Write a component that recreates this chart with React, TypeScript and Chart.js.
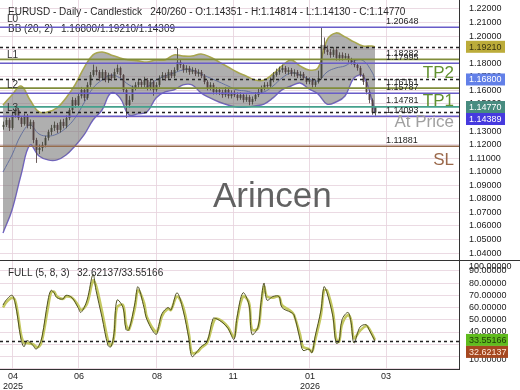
import React, { useEffect, useRef } from 'react';
import { Chart, registerables } from 'chart.js';

Chart.register(...registerables);

// ---------------- DATA ----------------
const firstOpen = 1.133;
const closes = [
  1.1345, 1.1381, 1.1323, 1.1418, 1.1455, 1.1396, 1.1352, 1.1411, 1.1337, 1.1367,
  1.1234, 1.1160, 1.1175, 1.1197, 1.1249, 1.1293, 1.1323, 1.1345, 1.1308, 1.1367,
  1.1337, 1.1396, 1.1455, 1.1529, 1.1492, 1.1558, 1.1603, 1.1544, 1.1640, 1.1713,
  1.1750, 1.1735, 1.1691, 1.1735, 1.1676, 1.1713, 1.1691, 1.1735, 1.1765, 1.1713,
  1.1603, 1.1492, 1.1529, 1.1617, 1.1640, 1.1662, 1.1640, 1.1676, 1.1617, 1.1662,
  1.1603, 1.1640, 1.1691, 1.1713, 1.1691, 1.1735, 1.1706, 1.1750, 1.1809, 1.1787,
  1.1750, 1.1765, 1.1735, 1.1750, 1.1721, 1.1735, 1.1706, 1.1662, 1.1617, 1.1640,
  1.1588, 1.1603, 1.1588, 1.1566, 1.1603, 1.1558, 1.1581, 1.1566, 1.1544, 1.1566,
  1.1529, 1.1551, 1.1514, 1.1536, 1.1566, 1.1588, 1.1617, 1.1640, 1.1632, 1.1676,
  1.1713, 1.1735, 1.1750, 1.1765, 1.1735, 1.1750, 1.1721, 1.1735, 1.1706, 1.1721,
  1.1691, 1.1662, 1.1676, 1.1640, 1.1662, 1.1691, 1.1935, 1.1898, 1.1883, 1.1861,
  1.1898, 1.1839, 1.1861, 1.1839, 1.1853, 1.1824, 1.1809, 1.1787, 1.1765, 1.1713,
  1.1662, 1.1588, 1.1529, 1.14351, 1.1477,
];
const highs = [
  1.1370, 1.1400, 1.1395, 1.1440, 1.1475, 1.1470, 1.1410, 1.1430, 1.1425, 1.1385,
  1.1380, 1.1250, 1.1200, 1.1220, 1.1265, 1.1310, 1.1345, 1.1370, 1.1360, 1.1385,
  1.1390, 1.1415, 1.1470, 1.1550, 1.1545, 1.1580, 1.1625, 1.1615, 1.1660, 1.1735,
  1.1790, 1.1775, 1.1750, 1.1755, 1.1750, 1.1730, 1.1725, 1.1760, 1.1790, 1.1775,
  1.1720, 1.1615, 1.1560, 1.1635, 1.1660, 1.1685, 1.1680, 1.1700, 1.1690, 1.1680,
  1.1675, 1.1660, 1.1710, 1.1735, 1.1730, 1.1755, 1.1750, 1.1770, 1.1912, 1.1830,
  1.1800, 1.1785, 1.1780, 1.1770, 1.1765, 1.1755, 1.1750, 1.1720, 1.1675, 1.1660,
  1.1655, 1.1625, 1.1620, 1.1605, 1.1625, 1.1615, 1.1600, 1.1600, 1.1585, 1.1585,
  1.1580, 1.1570, 1.1565, 1.1555, 1.1585, 1.1610, 1.1635, 1.1660, 1.1660, 1.1695,
  1.1735, 1.1760, 1.1775, 1.1790, 1.1780, 1.1770, 1.1765, 1.1755, 1.1750, 1.1740,
  1.1735, 1.1705, 1.1695, 1.1690, 1.1680, 1.1745, 1.2065, 1.1990, 1.1930, 1.1905,
  1.1920, 1.1910, 1.1880, 1.1880, 1.1875, 1.1870, 1.1840, 1.1825, 1.1800, 1.1780,
  1.1725, 1.1675, 1.1600, 1.1540, 1.14814,
];
const lows = [
  1.1310, 1.1330, 1.1300, 1.1310, 1.1400, 1.1380, 1.1330, 1.1340, 1.1320, 1.1315,
  1.1210, 1.1065, 1.1130, 1.1150, 1.1180, 1.1230, 1.1270, 1.1300, 1.1285, 1.1290,
  1.1320, 1.1320, 1.1380, 1.1440, 1.1470, 1.1480, 1.1540, 1.1520, 1.1530, 1.1625,
  1.1700, 1.1710, 1.1670, 1.1675, 1.1660, 1.1655, 1.1670, 1.1680, 1.1720, 1.1690,
  1.1585, 1.1395, 1.1470, 1.1515, 1.1600, 1.1620, 1.1620, 1.1625, 1.1600, 1.1600,
  1.1560, 1.1590, 1.1625, 1.1675, 1.1670, 1.1680, 1.1690, 1.1690, 1.1740, 1.1765,
  1.1730, 1.1730, 1.1715, 1.1720, 1.1705, 1.1700, 1.1690, 1.1645, 1.1600, 1.1600,
  1.1570, 1.1570, 1.1565, 1.1545, 1.1550, 1.1540, 1.1540, 1.1550, 1.1525, 1.1530,
  1.1510, 1.1515, 1.1490, 1.1495, 1.1520, 1.1550, 1.1575, 1.1600, 1.1615, 1.1620,
  1.1660, 1.1700, 1.1715, 1.1730, 1.1720, 1.1715, 1.1705, 1.1700, 1.1690, 1.1690,
  1.1675, 1.1645, 1.1645, 1.1620, 1.1625, 1.1650, 1.1680, 1.1870, 1.1860, 1.1840,
  1.1845, 1.1820, 1.1820, 1.1820, 1.1825, 1.1805, 1.1790, 1.1770, 1.1745, 1.1700,
  1.1640, 1.1570, 1.1505, 1.1420, 1.14130,
];

const bbIdx = [0, 3, 6, 9, 12, 15, 18, 21, 24, 27, 30, 33, 36, 39, 42, 45, 48, 51, 54, 57, 60, 63, 66, 69, 72, 75, 78, 81, 84, 87, 90, 93, 96, 99, 102, 105, 108, 111, 114, 117, 120, 123, 124];
const bbUpper = [
  1.1492, 1.1566, 1.1632, 1.1529, 1.1441, 1.1441, 1.1470, 1.1544, 1.1640, 1.1765,
  1.1861, 1.1883, 1.1861, 1.1839, 1.1824, 1.1817, 1.1809, 1.1824, 1.1824, 1.1861,
  1.1853, 1.1853, 1.1868, 1.1846, 1.1809, 1.1772, 1.1735, 1.1706, 1.1676, 1.1676,
  1.1721, 1.1780, 1.1824, 1.1780, 1.1750, 1.1765, 1.1971, 1.2023, 1.1994, 1.1957,
  1.1927, 1.1927, 1.1921,
];
const bbLower = [
  1.0548, 1.0718, 1.0976, 1.1197, 1.1116, 1.1087, 1.1087, 1.1123, 1.1190, 1.1271,
  1.1381, 1.1455, 1.1581, 1.1544, 1.1418, 1.1426, 1.1441, 1.1544, 1.1588, 1.1603,
  1.1640, 1.1640, 1.1581, 1.1544, 1.1514, 1.1492, 1.1477, 1.1477, 1.1485, 1.1499,
  1.1544, 1.1603, 1.1632, 1.1654, 1.1610, 1.1573, 1.1499, 1.1514, 1.1558, 1.1691,
  1.1706, 1.1529, 1.1439,
];
const bbMid = [
  1.0998, 1.1123, 1.1271, 1.1345, 1.1278, 1.1263, 1.1278, 1.1323, 1.1396, 1.1507,
  1.1617, 1.1676, 1.1713, 1.1691, 1.1640, 1.1617, 1.1625, 1.1676, 1.1706, 1.1728,
  1.1750, 1.1750, 1.1721, 1.1691, 1.1662, 1.1632, 1.1603, 1.1595, 1.1581, 1.1588,
  1.1632, 1.1691, 1.1728, 1.1713, 1.1684, 1.1669, 1.1735, 1.1765, 1.1780, 1.1817,
  1.1820, 1.1735, 1.1680,
];

const stochIdx = [0, 1, 3, 4, 5, 6, 7, 8, 10, 11, 12, 13, 15, 16, 17, 18, 20, 21, 23, 25, 26, 28, 30, 31, 33, 35, 36, 37, 38, 40, 41, 42, 44, 45, 47, 48, 51, 52, 53, 55, 56, 58, 60, 62, 63, 65, 66, 68, 70, 71, 73, 75, 77, 78, 80, 82, 83, 85, 86, 87, 88, 90, 92, 93, 96, 97, 99, 100, 102, 103, 104, 106, 107, 108, 110, 111, 112, 113, 115, 116, 117, 119, 121, 122, 124];
const stochK = [
  62, 66, 70, 64, 50, 34, 28, 33, 29, 26, 29, 36, 66, 74, 72, 68, 67, 70, 68, 60,
  56, 66, 87, 74, 52, 29, 28, 39, 66, 60, 42, 42, 64, 77, 60, 50, 38, 46, 55, 60,
  58, 72, 58, 34, 20, 25, 28, 32, 51, 51, 48, 43, 34, 52, 72, 62, 38, 44, 64, 80,
  66, 69, 69, 60, 56, 54, 34, 25, 26, 23, 36, 58, 77, 72, 52, 31, 32, 50, 56, 48,
  31, 44, 46, 42, 32.62137,
];
const stochD = [
  60, 64, 68, 66, 54, 38, 31, 31, 30, 28, 28, 33, 60, 72, 73, 69, 67, 69, 68, 62,
  58, 63, 82, 78, 57, 33, 29, 36, 60, 62, 46, 42, 60, 74, 64, 52, 40, 44, 53, 59,
  58, 69, 61, 38, 23, 24, 27, 31, 47, 51, 49, 44, 36, 49, 69, 64, 42, 43, 61, 77,
  69, 68, 69, 62, 57, 54, 38, 28, 26, 24, 33, 54, 74, 74, 56, 35, 32, 46, 54, 50,
  35, 41, 45, 43, 33.55166,
];

const monthTickIdx = [3.3, 25.3, 51.3, 76.7, 102.3, 127.7];
const monthLabels = ['04', '06', '08', '11', '01', '03'];
const yearLabels = ['2025', '', '', '', '2026', ''];
const priceTicks = [1.04, 1.05, 1.06, 1.07, 1.08, 1.09, 1.10, 1.11, 1.12, 1.13, 1.14, 1.15, 1.16, 1.17, 1.18, 1.19, 1.20, 1.21, 1.22];
const oscTicks = [10, 20, 30, 40, 50, 60, 70, 80, 90];

const levelValues = [1.20648, 1.18282, 1.17995, 1.16161, 1.15787, 1.14781, 1.14093, 1.11881];
const levelNames = ['L0', 'L1', 'L2', 'L3'];
const levelNameValues = [1.20648, 1.17995, 1.15787, 1.14093];
const bbLastValues = [1.1921, 1.168, 1.14389];
const zoneTexts = ['TP2', 'TP1', 'At Price', 'SL'];
const zoneValues = [1.17995, 1.15787, 1.14093, 1.11881];

const titleText = 'EURUSD - Daily - Candlestick   240/260 - O:1.14351 - H:1.14814 - L:1.14130 - C:1.14770';
const bbName = 'BB (20, 2)';
const bbValuesText = '1.16800/1.19210/1.14309';
const oscName = 'FULL (5, 8, 3)';
const oscValuesText = '32.62137/33.55166';
const watermark = 'Arincen';

// ---------------- STYLE ----------------
const FONT = '"Liberation Sans", Arial, Helvetica, sans-serif';
const GRID = 'rgba(232,212,222,0.85)';
const PURPLE = 'rgb(105,92,200)';
const OLIVE = 'rgb(128,140,58)';
const TEAL = 'rgb(70,160,140)';
const BROWN = 'rgb(150,108,78)';
const levelColors = [PURPLE, OLIVE, PURPLE, OLIVE, PURPLE, TEAL, PURPLE, BROWN];
const levelNameOffsets = [8, 8, 8, 8];
const zoneColors = ['rgb(98,145,48)', 'rgb(98,145,48)', 'rgb(160,160,160)', 'rgb(155,105,75)'];
const zoneOffsets = [10, 8, 6, 14];

type Box = { value: number; text: string; bg: string; fg: string };
const priceBoxes: Box[] = [
  { value: 1.1921, text: '1.19210', bg: 'rgb(188,172,58)', fg: '#3a3410' },
  { value: 1.168, text: '1.16800', bg: 'rgb(98,128,232)', fg: '#ffffff' },
  { value: 1.1477, text: '1.14770', bg: 'rgb(72,140,128)', fg: '#ffffff' },
  { value: 1.14389, text: '1.14389', bg: 'rgb(70,58,222)', fg: '#ffffff' },
];
const oscBoxes: Box[] = [
  { value: 33.55166, text: '33.55166', bg: 'rgb(96,188,30)', fg: '#1e3a08' },
  { value: 32.62137, text: '32.62137', bg: 'rgb(165,72,32)', fg: '#ffe8d8' },
];

function drawBoxes(ctx: CanvasRenderingContext2D, ys: any, boxes: Box[], x: number, w: number) {
  const h = 12;
  const items = boxes.map((b) => ({ ...b, y: ys.getPixelForValue(b.value) })).sort((a, b) => a.y - b.y);
  let prev = -1e9;
  ctx.save();
  ctx.font = `9px ${FONT}`;
  ctx.textBaseline = 'middle';
  ctx.textAlign = 'left';
  for (const it of items) {
    const top = Math.max(it.y - h / 2, prev);
    ctx.fillStyle = it.bg;
    ctx.fillRect(x, top, w, h);
    ctx.fillStyle = it.fg;
    ctx.fillText(it.text, x + 3, top + h / 2 + 0.5);
    prev = top + h;
  }
  ctx.restore();
}

const pricePlugin = {
  id: 'pricePlugin',
  beforeDatasetsDraw(chart: any) {
    const { ctx } = chart;
    ctx.save();
    ctx.font = `35px ${FONT}`;
    ctx.fillStyle = 'rgba(85,85,85,0.92)';
    ctx.textBaseline = 'alphabetic';
    ctx.fillText(watermark, 213, 207);
    ctx.restore();
  },
  afterDatasetsDraw(chart: any) {
    const { ctx, chartArea: ca, scales } = chart;
    const xs = scales.x;
    const ys = scales.y;
    ctx.save();
    ctx.beginPath();
    ctx.rect(ca.left, ca.top, ca.right - ca.left, ca.bottom - ca.top);
    ctx.clip();

    // candles
    const opens = closes.map((c, i) => (i === 0 ? firstOpen : closes[i - 1]));
    for (let i = 0; i < closes.length; i++) {
      const x = Math.round(xs.getPixelForValue(i));
      const yh = ys.getPixelForValue(highs[i]);
      const yl = ys.getPixelForValue(lows[i]);
      const yo = ys.getPixelForValue(opens[i]);
      const yc = ys.getPixelForValue(closes[i]);
      ctx.fillStyle = closes[i] >= opens[i] ? 'rgba(70,70,60,0.85)' : 'rgba(80,64,64,0.85)';
      ctx.fillRect(x, yh, 1, yl - yh);
      const top = Math.min(yo, yc);
      const hh = Math.max(1, Math.abs(yo - yc));
      ctx.fillRect(x - 0.5, top, 2, hh);
    }

    // header texts
    ctx.font = `10px ${FONT}`;
    ctx.fillStyle = '#2a2a2a';
    ctx.textBaseline = 'middle';
    ctx.textAlign = 'left';
    ctx.fillText(titleText, 8, 12);
    ctx.fillText(bbName, 8, 29);
    ctx.fillText(bbValuesText, 61, 29);

    // level lines
    levelValues.forEach((v, i) => {
      const y = ys.getPixelForValue(v);
      ctx.strokeStyle = levelColors[i];
      ctx.lineWidth = 1.6;
      ctx.setLineDash([]);
      ctx.beginPath();
      ctx.moveTo(ca.left, y);
      ctx.lineTo(ca.right, y);
      ctx.stroke();
    });
    // dotted BB current values
    bbLastValues.forEach((v) => {
      const y = Math.round(ys.getPixelForValue(v)) + 0.5;
      ctx.strokeStyle = '#222';
      ctx.lineWidth = 1.5;
      ctx.setLineDash([3, 3]);
      ctx.beginPath();
      ctx.moveTo(ca.left, y);
      ctx.lineTo(ca.right, y);
      ctx.stroke();
    });
    ctx.setLineDash([]);

    // level value texts
    ctx.font = `9px ${FONT}`;
    ctx.fillStyle = '#262626';
    ctx.textBaseline = 'bottom';
    levelValues.forEach((v) => {
      const y = ys.getPixelForValue(v);
      ctx.fillText(v.toFixed(5), 386, y - 1.5);
    });

    // L labels
    ctx.font = `10px ${FONT}`;
    ctx.fillStyle = '#333';
    ctx.textBaseline = 'middle';
    levelNames.forEach((n, i) => {
      const y = ys.getPixelForValue(levelNameValues[i]) - levelNameOffsets[i];
      ctx.fillText(n, 7, y);
    });

    // zone texts
    ctx.textAlign = 'right';
    zoneTexts.forEach((t, i) => {
      ctx.font = `17px ${FONT}`;
      ctx.fillStyle = zoneColors[i];
      const y = ys.getPixelForValue(zoneValues[i]) + zoneOffsets[i];
      ctx.fillText(t, 454, y);
    });
    ctx.restore();
  },
  afterDraw(chart: any) {
    drawBoxes(chart.ctx, chart.scales.y, priceBoxes, 466, 39);
  },
};

const oscPlugin = {
  id: 'oscPlugin',
  afterDatasetsDraw(chart: any) {
    const { ctx, chartArea: ca, scales } = chart;
    const ys = scales.y;
    ctx.save();
    const y = Math.round(ys.getPixelForValue(stochK[stochK.length - 1])) + 0.5;
    ctx.strokeStyle = '#222';
    ctx.lineWidth = 1.5;
    ctx.setLineDash([3, 3]);
    ctx.beginPath();
    ctx.moveTo(ca.left, y);
    ctx.lineTo(ca.right, y);
    ctx.stroke();
    ctx.setLineDash([]);
    ctx.font = `10px ${FONT}`;
    ctx.fillStyle = '#2a2a2a';
    ctx.textBaseline = 'middle';
    ctx.fillText(oscName, 8, 13);
    ctx.fillText(oscValuesText, 77, 13);
    ctx.restore();
  },
  afterDraw(chart: any) {
    const { ctx, scales, width } = chart;
    const ys = scales.y;
    ctx.save();
    ctx.strokeStyle = '#333';
    ctx.lineWidth = 1;
    ctx.beginPath();
    ctx.moveTo(0, 0.5);
    ctx.lineTo(width, 0.5);
    ctx.stroke();
    ctx.font = `9px ${FONT}`;
    ctx.fillStyle = '#222';
    ctx.textBaseline = 'middle';
    ctx.fillText((100).toFixed(5), 469, ys.getPixelForValue(90) - 4);
    ctx.fillText((10).toFixed(5), 469, ys.getPixelForValue(10) - 9);
    ctx.restore();
    drawBoxes(ctx, ys, oscBoxes, 466, 42);
  },
};

export default function App() {
  const priceRef = useRef<HTMLCanvasElement>(null);
  const oscRef = useRef<HTMLCanvasElement>(null);

  useEffect(() => {
    Chart.defaults.font.family = FONT;
    const pc = priceRef.current!;
    const oc = oscRef.current!;

    const xScaleBase = {
      type: 'linear' as const,
      min: -1,
      max: 152,
      position: 'bottom' as const,
      afterBuildTicks: (s: any) => {
        s.ticks = monthTickIdx.map((v) => ({ value: v }));
      },
      grid: { color: GRID, drawTicks: false },
    };

    const priceChart = new Chart(pc, {
      type: 'line',
      data: {
        datasets: [
          {
            label: 'BB upper',
            data: bbIdx.map((x, i) => ({ x, y: bbUpper[i] })),
            borderColor: 'rgb(168,166,78)',
            borderWidth: 1.6,
            pointRadius: 0,
            fill: '+1',
            backgroundColor: 'rgba(118,118,118,0.58)',
            tension: 0.4,
          },
          {
            label: 'BB lower',
            data: bbIdx.map((x, i) => ({ x, y: bbLower[i] })),
            borderColor: 'rgb(112,96,208)',
            borderWidth: 1.4,
            pointRadius: 0,
            fill: false,
            tension: 0.4,
          },
          {
            label: 'BB mid',
            data: bbIdx.map((x, i) => ({ x, y: bbMid[i] })),
            borderColor: 'rgb(78,108,212)',
            borderWidth: 1,
            pointRadius: 0,
            fill: false,
            tension: 0.4,
          },
        ],
      },
      options: {
        responsive: false,
        animation: false,
        events: [],
        layout: { padding: 0 },
        plugins: { legend: { display: false }, tooltip: { enabled: false } },
        scales: {
          x: {
            ...xScaleBase,
            ticks: { display: false, autoSkip: false },
            border: { display: false },
            afterFit: (s: any) => {
              s.height = 0;
              s.paddingLeft = 0;
              s.paddingRight = 0;
            },
          },
          y: {
            type: 'linear',
            position: 'right',
            min: 1.0349,
            max: 1.2266,
            afterBuildTicks: (s: any) => {
              s.ticks = priceTicks.map((v) => ({ value: v }));
            },
            ticks: {
              autoSkip: false,
              padding: 10,
              color: '#222',
              font: { size: 9, family: FONT },
              callback: (v: any) => Number(v).toFixed(5),
            },
            grid: { color: GRID, drawTicks: false },
            border: { display: true, color: '#333', width: 1 },
            afterFit: (s: any) => {
              s.width = 61;
              s.paddingTop = 0;
              s.paddingBottom = 0;
            },
          },
        },
      } as any,
      plugins: [pricePlugin],
    });

    const oscChart = new Chart(oc, {
      type: 'line',
      data: {
        datasets: [
          {
            label: '%K',
            data: stochIdx.map((x, i) => ({ x, y: stochK[i] })),
            borderColor: 'rgb(80,82,36)',
            borderWidth: 1,
            pointRadius: 0,
            fill: false,
            tension: 0.35,
          },
          {
            label: '%D',
            data: stochIdx.map((x, i) => ({ x, y: stochD[i] })),
            borderColor: 'rgb(196,200,96)',
            borderWidth: 2.6,
            pointRadius: 0,
            fill: false,
            tension: 0.35,
          },
        ],
      },
      options: {
        responsive: false,
        animation: false,
        events: [],
        layout: { padding: 0 },
        plugins: { legend: { display: false }, tooltip: { enabled: false } },
        scales: {
          x: {
            ...xScaleBase,
            ticks: {
              autoSkip: false,
              maxRotation: 0,
              padding: 2,
              color: '#222',
              font: { size: 9, family: FONT, lineHeight: 1.15 },
              callback: (_v: any, i: number) => [monthLabels[i], yearLabels[i]],
            },
            border: { display: true, color: '#333', width: 1 },
            afterFit: (s: any) => {
              s.height = 21;
              s.paddingLeft = 0;
              s.paddingRight = 0;
            },
          },
          y: {
            type: 'linear',
            position: 'right',
            min: 9.8,
            max: 98.8,
            afterBuildTicks: (s: any) => {
              s.ticks = oscTicks.map((v) => ({ value: v }));
            },
            ticks: {
              autoSkip: false,
              padding: 10,
              color: '#222',
              font: { size: 9, family: FONT },
              callback: (v: any) => (Number(v) >= 40 ? Number(v).toFixed(5) : ''),
            },
            grid: { color: GRID, drawTicks: false },
            border: { display: true, color: '#333', width: 1 },
            afterFit: (s: any) => {
              s.width = 61;
              s.paddingTop = 0;
              s.paddingBottom = 0;
            },
          },
        },
      } as any,
      plugins: [oscPlugin],
    });

    return () => {
      priceChart.destroy();
      oscChart.destroy();
    };
  }, []);

  return (
    <div style={{ position: 'fixed', left: 0, top: 0, width: 520, height: 390, background: '#fff' }}>
      <canvas ref={priceRef} width={520} height={260} style={{ position: 'absolute', left: 0, top: 0, display: 'block' }} />
      <canvas ref={oscRef} width={520} height={130} style={{ position: 'absolute', left: 0, top: 260, display: 'block' }} />
    </div>
  );
}
